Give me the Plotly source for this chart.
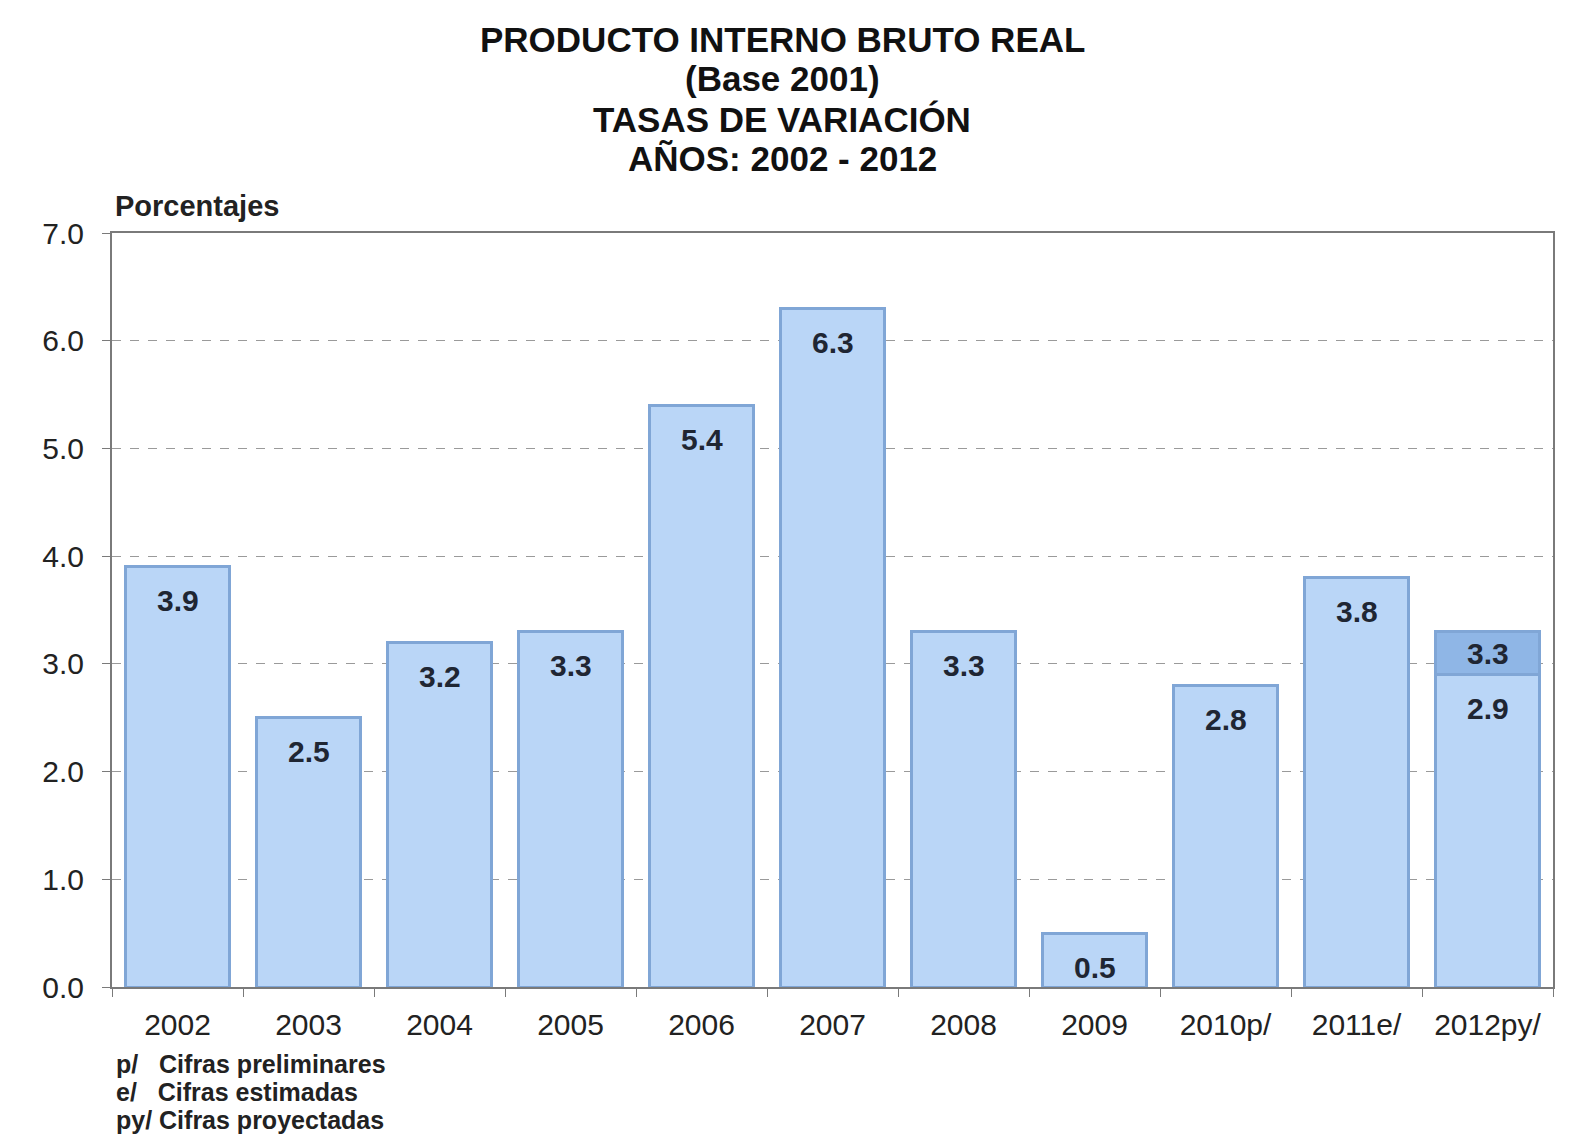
import plotly.graph_objects as go

categories = ["2002", "2003", "2004", "2005", "2006", "2007", "2008", "2009", "2010p/", "2011e/", "2012py/"]
values = [3.9, 2.5, 3.2, 3.3, 5.4, 6.3, 3.3, 0.5, 2.8, 3.8, 2.9]
upper_cat = ["2012py/"]
upper_total = [3.3]
upper_extra = [round(upper_total[0] - values[-1], 1)]
y_ticks = [0, 1, 2, 3, 4, 5, 6, 7]
title_lines = ["PRODUCTO INTERNO BRUTO REAL", "(Base 2001)", "TASAS DE VARIACIÓN", "AÑOS: 2002 - 2012"]
notes = ["p/&nbsp;&nbsp;&nbsp;Cifras preliminares", "e/&nbsp;&nbsp;&nbsp;Cifras estimadas", "py/ Cifras proyectadas"]

FONT = "Liberation Sans, Arial, sans-serif"
LABEL_COLOR = "#1F2633"

fig = go.Figure()
fig.add_trace(go.Bar(
    x=categories, y=values,
    marker=dict(color="#BAD6F7", line=dict(color="#80A6D6", width=3)),
    width=0.79, hoverinfo="x+y"))
fig.add_trace(go.Bar(
    x=upper_cat, y=upper_extra,
    marker=dict(color="#8FB6E6", line=dict(color="#80A6D6", width=3)),
    width=0.79, hoverinfo="x+y"))

annotations = []
for i, v in enumerate(values):
    annotations.append(dict(x=i, y=v, xref="x", yref="y", text=f"<b>{v:.1f}</b>",
                            showarrow=False, yshift=-34, yanchor="middle",
                            font=dict(family=FONT, size=30, color=LABEL_COLOR)))
for c, t, e in zip(upper_cat, upper_total, upper_extra):
    annotations.append(dict(x=categories.index(c), y=t - e / 2, xref="x", yref="y",
                            text=f"<b>{t:.1f}</b>", showarrow=False, yanchor="middle",
                            font=dict(family=FONT, size=30, color=LABEL_COLOR)))

# page offset (browser body margin)
OFF = 8
W, H = 1581, 1148
# target plot box in screen pixels
PX_L, PX_R, PX_T, PX_B = 112, 1553, 233, 987
ml = PX_L - OFF
mt = PX_T - OFF
mr = W - (PX_R - OFF)
mb = H - (PX_B - OFF)
pw, ph = W - ml - mr, H - mt - mb


def px(xs, ys):
    return (xs - OFF - ml) / pw, 1 - (ys - OFF - mt) / ph


title_y = [40, 79, 119, 159]
for line, yy in zip(title_lines, title_y):
    xx, yv = px(782, yy)
    annotations.append(dict(x=xx, y=yv, xref="paper", yref="paper", text=f"<b>{line}</b>",
                            showarrow=False, yanchor="middle", xanchor="center",
                            font=dict(family=FONT, size=35, color="#111111")))
xx, yv = px(113, 206)
annotations.append(dict(x=xx, y=yv, xref="paper", yref="paper", text="<b>Porcentajes</b>",
                        showarrow=False, xanchor="left", yanchor="middle",
                        font=dict(family=FONT, size=29, color="#222222")))
for i, n in enumerate(notes):
    xx, yv = px(114, 1064 + 28 * i)
    annotations.append(dict(x=xx, y=yv, xref="paper", yref="paper", text=f"<b>{n}</b>",
                            showarrow=False, xanchor="left", yanchor="middle",
                            font=dict(family=FONT, size=25, color="#222222")))

fig.update_layout(
    width=W, height=H,
    margin=dict(l=ml, r=mr, t=mt, b=mb),
    barmode="stack",
    showlegend=False,
    paper_bgcolor="white",
    plot_bgcolor="white",
    font=dict(family=FONT, color="#222222"),
    annotations=annotations,
    xaxis=dict(
        type="category", showline=True, linecolor="#7A7A7A", linewidth=2,
        mirror=True, ticks="outside", tickson="boundaries", ticklen=8,
        tickcolor="#7A7A7A", tickfont=dict(family=FONT, size=30, color="#222222"),
        ticklabelstandoff=10,
        showgrid=False, range=[-0.5, len(categories) - 0.5], automargin=False),
    yaxis=dict(
        range=[0, 7], tickvals=y_ticks, ticktext=[f"{t:.1f}" for t in y_ticks],
        showline=True, linecolor="#7A7A7A", linewidth=2, mirror=True,
        ticks="outside", ticklen=8, tickcolor="#7A7A7A",
        tickfont=dict(family=FONT, size=30, color="#222222"),
        ticklabelstandoff=12,
        showgrid=True, gridcolor="#9A9A9A", griddash="dash", gridwidth=1,
        zeroline=False, automargin=False),
)

fig.write_html("out.html")
